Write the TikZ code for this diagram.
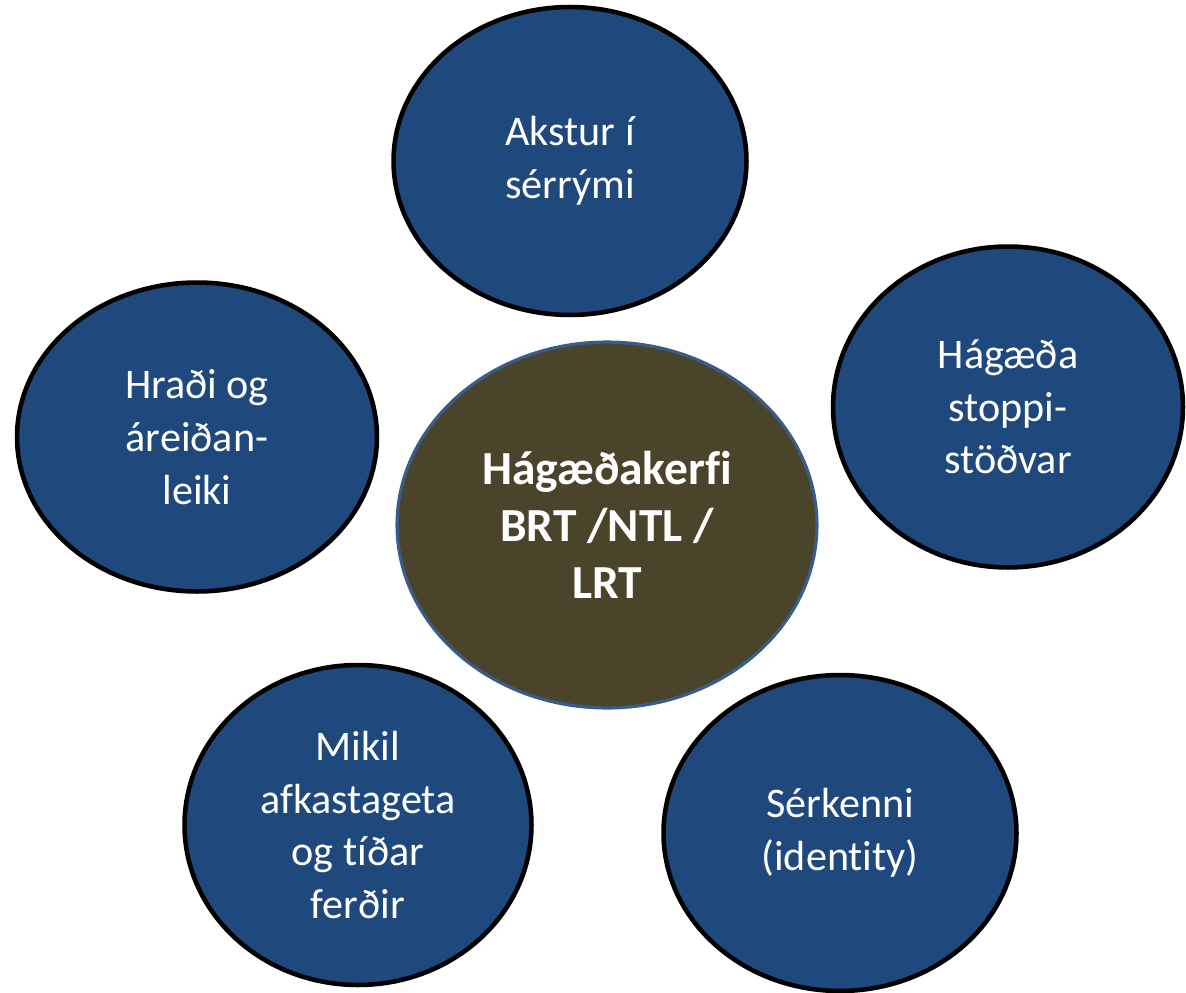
\documentclass[tikz,border=0pt]{standalone}
\usepackage{fontspec}
\setmainfont{Carlito}[Ligatures=NoCommon]
\usetikzlibrary{shapes.geometric}
\definecolor{bubbleblue}{HTML}{1F497D}
\definecolor{hubolive}{HTML}{4A452A}
\definecolor{hubrim}{HTML}{385D8A}
\tikzstyle{bubble} = [ellipse, inner sep=0pt, draw=black, line width=2.6pt,
fill=bubbleblue, text=white, align=center, font=\fontsize{24}{30}\selectfont]
\tikzstyle{hub} = [ellipse, inner sep=0pt, draw=hubrim, line width=1.8pt,
fill=hubolive, text=white, align=center, font=\bfseries\fontsize{27}{32.5}\selectfont]

\begin{document}
\begin{tikzpicture}[x=0.02cm, y=-0.02cm]
  \useasboundingbox (0,0) rectangle (1186,993);

  \node (hub) [hub, minimum width=8.4cm, minimum height=7.32cm] at (607,525)
  {Hágæðakerfi\\BRT /NTL /\\LRT};

  \node (lane) [bubble, minimum width=7.06cm, minimum height=6.16cm] at (570,161)
  {Akstur í\\sérrými};
  \node (speed) [bubble, minimum width=7.2cm, minimum height=6.18cm] at (197,437)
  {Hraði og\\áreiðan-\\leiki};
  \node (stops) [bubble, minimum width=7cm, minimum height=6.42cm] at (1008,407)
  {Hágæða\\stoppi-\\stöðvar};
  \node (capacity) [bubble, minimum width=6.94cm, minimum height=6.4cm] at (358,825)
  {Mikil\\afkastageta\\og tíðar\\ferðir};
  \node (identity) [bubble, minimum width=7.06cm, minimum height=6.32cm] at (840,833)
  {Sérkenni\\(identity)};
\end{tikzpicture}
\end{document}
